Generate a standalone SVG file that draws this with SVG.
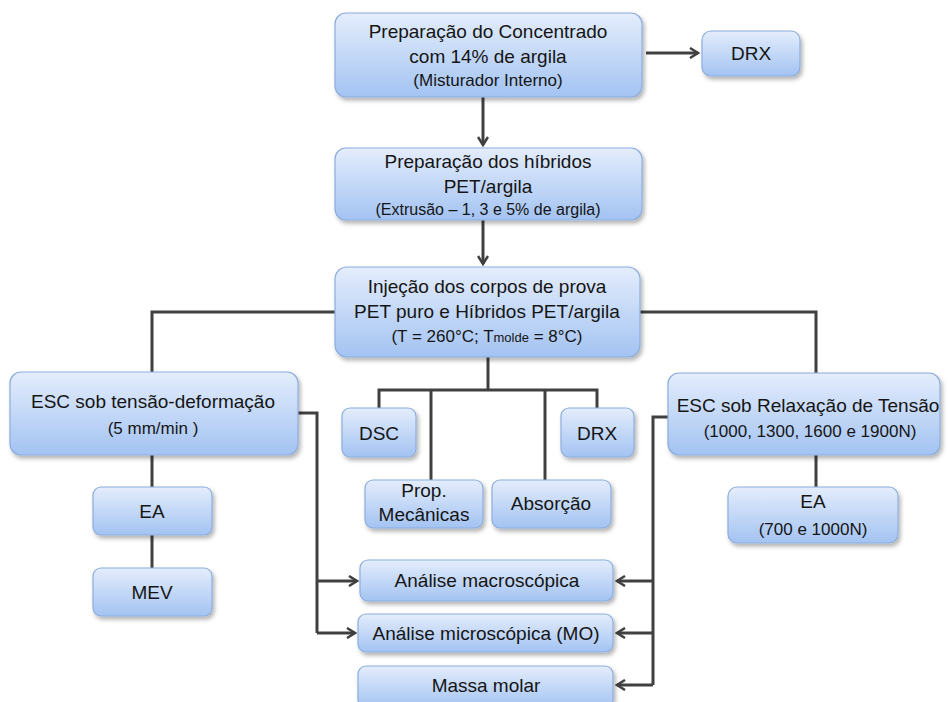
<svg xmlns="http://www.w3.org/2000/svg" width="948" height="702" viewBox="0 0 948 702">
<defs>
<linearGradient id="g" x1="0" y1="0" x2="0" y2="1">
<stop offset="0" stop-color="#e4edfc"/>
<stop offset="1" stop-color="#a3c3f2"/>
</linearGradient>
<filter id="sh" x="-10%" y="-10%" width="125%" height="140%">
<feDropShadow dx="2" dy="3" stdDeviation="2" flood-color="#000" flood-opacity="0.3"/>
</filter>
<marker id="ah" viewBox="0 0 12 12" refX="10" refY="6" markerWidth="12" markerHeight="12" markerUnits="userSpaceOnUse" orient="auto">
<path d="M2,1 L10,6 L2,11" fill="none" stroke="#404040" stroke-width="2.5"/>
</marker>
</defs>
<style>
.box rect{fill:url(#g);stroke:#8caddc;stroke-width:1.2;filter:url(#sh)}
text{font-family:"Liberation Sans",Arial,sans-serif;fill:#151515;text-anchor:middle}
.m{font-size:19px}
.s{font-size:17px}
.c path,.c line,.c polyline{fill:none;stroke:#404040;stroke-width:3}
</style>
<rect width="948" height="702" fill="#fff"/>
<g class="c" id="connectors">
<line x1="646" y1="53" x2="698" y2="53" marker-end="url(#ah)"/>
<line x1="483" y1="97" x2="483" y2="145" marker-end="url(#ah)"/>
<line x1="483" y1="220" x2="483" y2="264" marker-end="url(#ah)"/>
<polyline points="335,312 152,312 152,372"/>
<polyline points="640,312 816,312 816,373"/>
<line x1="488" y1="357" x2="488" y2="390"/>
<polyline points="379,408 379,390 597,390 597,408"/>
<line x1="431" y1="390" x2="431" y2="480"/>
<line x1="545" y1="390" x2="545" y2="480"/>
<line x1="152" y1="455" x2="152" y2="487"/>
<line x1="152" y1="535" x2="152" y2="568"/>
<polyline points="298,413 317,413 317,633"/>
<line x1="317" y1="581" x2="357" y2="581" marker-end="url(#ah)"/>
<line x1="317" y1="633" x2="355" y2="633" marker-end="url(#ah)"/>
<polyline points="668,417 653,417 653,685"/>
<line x1="653" y1="581" x2="617" y2="581" marker-end="url(#ah)"/>
<line x1="653" y1="633" x2="617" y2="633" marker-end="url(#ah)"/>
<line x1="653" y1="685" x2="617" y2="685" marker-end="url(#ah)"/>
<line x1="816" y1="455" x2="816" y2="487"/>
</g>
<g class="box" id="n_concentrado">
<rect x="335" y="13" width="307" height="84" rx="11"/>
<text class="m" x="488" y="38">Preparação do Concentrado</text>
<text class="m" x="488" y="63">com 14% de argila</text>
<text class="s" x="488" y="86">(Misturador Interno)</text>
</g>
<g class="box" id="n_drx_top">
<rect x="702" y="31" width="98" height="45" rx="9"/>
<text class="m" x="751" y="60">DRX</text>
</g>
<g class="box" id="n_hibridos">
<rect x="335" y="148" width="307" height="72" rx="11"/>
<text class="m" x="488" y="168">Preparação dos  híbridos</text>
<text class="m" x="488" y="193">PET/argila</text>
<text class="s" x="488" y="215" style="font-size:16px">(Extrusão – 1, 3 e 5% de argila)</text>
</g>
<g class="box" id="n_injecao">
<rect x="335" y="267" width="305" height="90" rx="12"/>
<text class="m" x="487" y="293">Injeção dos corpos de prova</text>
<text class="m" x="487" y="318">PET puro e Híbridos PET/argila</text>
<text class="s" x="487" y="342">(T = 260°C; T<tspan style="font-size:13px">molde</tspan> = 8°C)</text>
</g>
<g class="box" id="n_esc_td">
<rect x="10" y="372" width="288" height="83" rx="11"/>
<text class="m" x="153" y="408">ESC sob tensão-deformação</text>
<text class="s" x="153" y="434">(5 mm/min )</text>
</g>
<g class="box" id="n_esc_rt">
<rect x="668" y="373" width="272" height="82" rx="11"/>
<text class="m" x="808" y="412">ESC sob Relaxação de Tensão</text>
<text class="s" x="810" y="437">(1000, 1300, 1600 e 1900N)</text>
</g>
<g class="box" id="n_dsc">
<rect x="342" y="408" width="74" height="49" rx="8"/>
<text class="m" x="379" y="440">DSC</text>
</g>
<g class="box" id="n_drx">
<rect x="561" y="408" width="73" height="49" rx="8"/>
<text class="m" x="597" y="440">DRX</text>
</g>
<g class="box" id="n_prop">
<rect x="365" y="480" width="118" height="48" rx="8"/>
<text class="m" x="424" y="497">Prop.</text>
<text class="m" x="424" y="521">Mecânicas</text>
</g>
<g class="box" id="n_absorcao">
<rect x="492" y="480" width="119" height="48" rx="8"/>
<text class="m" x="551" y="510">Absorção</text>
</g>
<g class="box" id="n_ea_left">
<rect x="93" y="487" width="119" height="48" rx="8"/>
<text class="m" x="152" y="518">EA</text>
</g>
<g class="box" id="n_mev">
<rect x="93" y="568" width="119" height="48" rx="8"/>
<text class="m" x="152" y="599">MEV</text>
</g>
<g class="box" id="n_ea_right">
<rect x="728" y="487" width="170" height="56" rx="9"/>
<text class="m" x="813" y="508">EA</text>
<text class="s" x="813" y="535">(700 e 1000N)</text>
</g>
<g class="box" id="n_macro">
<rect x="360" y="560" width="253" height="41" rx="8"/>
<text class="m" x="487" y="587">Análise macroscópica</text>
</g>
<g class="box" id="n_micro">
<rect x="358" y="614" width="255" height="38" rx="8"/>
<text class="m" x="486" y="640">Análise microscópica (MO)</text>
</g>
<g class="box" id="n_massa">
<rect x="358" y="666" width="255" height="42" rx="8"/>
<text class="m" x="486" y="692">Massa molar</text>
</g>
</svg>
